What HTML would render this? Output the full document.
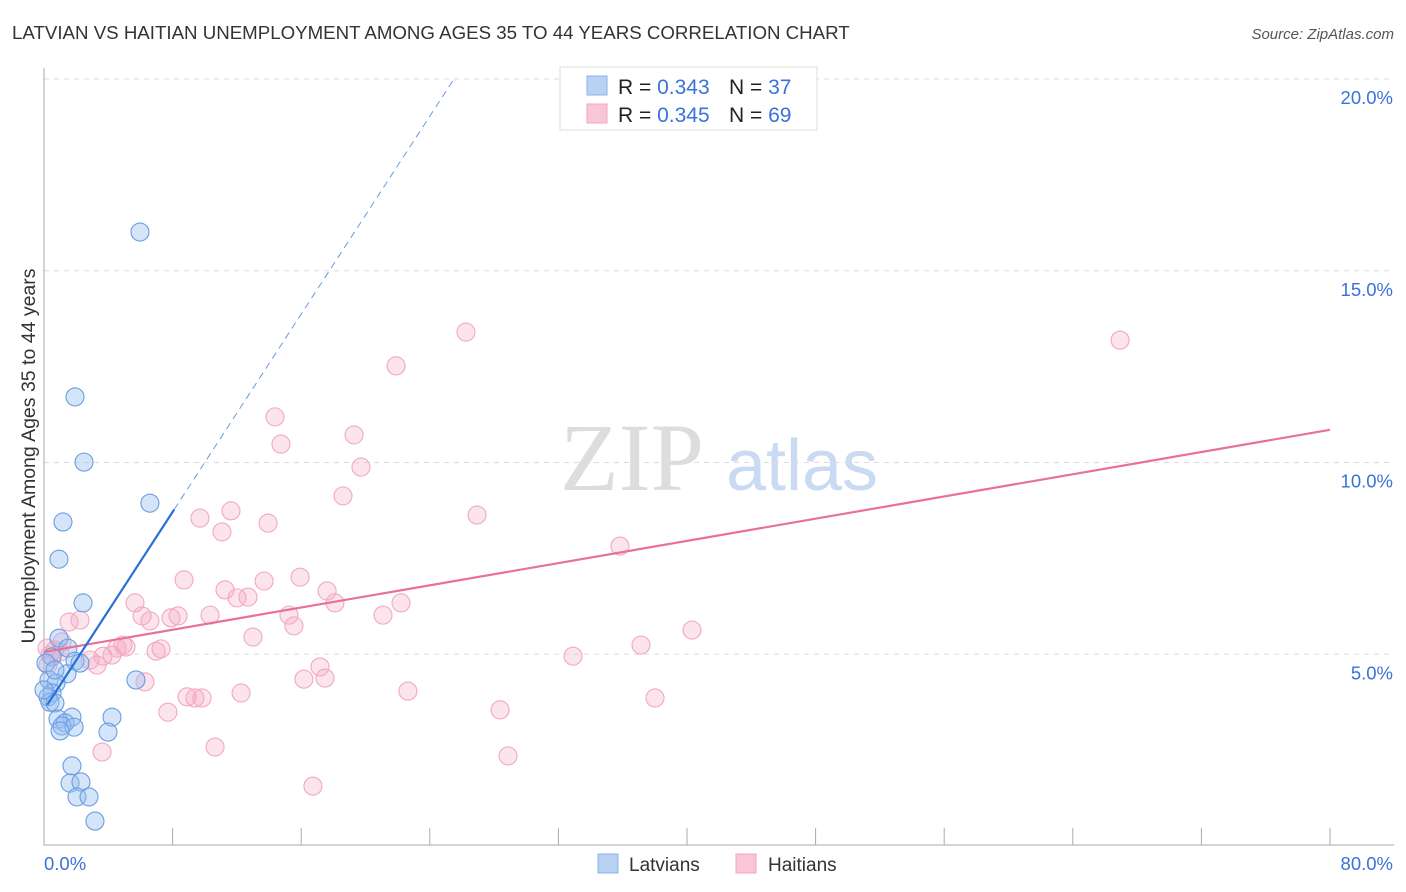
<!DOCTYPE html>
<html><head><meta charset="utf-8"><style>
body{margin:0;background:#fff;font-family:"Liberation Sans",sans-serif;}
svg{display:block}
</style></head><body>
<svg id="chart" width="1406" height="892" xmlns="http://www.w3.org/2000/svg">
<text x="12" y="39" font-size="18.7" fill="#333">LATVIAN VS HAITIAN UNEMPLOYMENT AMONG AGES 35 TO 44 YEARS CORRELATION CHART</text>
<text x="1394" y="39" font-size="15" font-style="italic" fill="#555" text-anchor="end">Source: ZipAtlas.com</text>
<text x="0" y="0" transform="translate(35,456) rotate(-90)" font-size="19.5" fill="#333" text-anchor="middle">Unemployment Among Ages 35 to 44 years</text>
<g>
<text x="632" y="490" font-size="96" font-family="Liberation Serif,serif" fill="#ddd" text-anchor="middle">ZIP</text>
<text x="802" y="490" font-size="72" fill="#c9daf2" text-anchor="middle">atlas</text>
</g>
<g id="grid"></g>
<g id="axes"></g>
<g id="marks"></g>
<g>
<rect x="560" y="67" width="257" height="63" fill="#fff" stroke="#ddd"/>
<rect x="587" y="76" width="20" height="19" fill="#b8d2f4" stroke="#8ab2e8"/>
<rect x="587" y="104" width="20" height="19" fill="#f9c6d6" stroke="#f2a6bf"/>
<text x="618" y="94" font-size="21" fill="#222">R = <tspan fill="#3a72d8">0.343</tspan><tspan x="729">N = </tspan><tspan fill="#3a72d8">37</tspan></text>
<text x="618" y="122" font-size="21" fill="#222">R = <tspan fill="#3a72d8">0.345</tspan><tspan x="729">N = </tspan><tspan fill="#3a72d8">69</tspan></text>
</g>
<g>
<rect x="598" y="854" width="20" height="19" fill="#b8d2f4" stroke="#8ab2e8"/>
<text x="629" y="871" font-size="19" fill="#333">Latvians</text>
<rect x="736" y="854" width="20" height="19" fill="#f9c6d6" stroke="#f2a6bf"/>
<text x="768" y="871" font-size="19" fill="#333">Haitians</text>
</g>
</svg>
<script>
const xTicks=[0,8,16,24,32,40,48,56,64,72,80];
const yTicks=[5,10,15,20];
const yTickLabels=["5.0%","10.0%","15.0%","20.0%"];
const xEndLabels=["0.0%","80.0%"];
const latX=[5.97,1.93,2.49,6.59,1.18,0.93,2.43,0.93,1.49,1.93,0.50,1.43,0.31,0.75,0.50,0.25,0.37,0.68,5.72,4.23,1.74,0.87,1.31,1.12,1.87,1.0,3.98,1.74,1.62,2.30,2.05,2.80,3.17,2.24,0.12,0.68,0];
const latY=[16.01,11.71,10.01,8.94,8.45,7.48,6.34,5.42,5.16,4.82,4.93,4.49,4.33,4.25,3.99,3.89,3.75,3.73,4.33,3.36,3.36,3.31,3.21,3.13,3.10,3.0,2.97,2.09,1.64,1.67,1.28,1.28,0.65,4.77,4.77,4.59,4.07];
const haiX=[26.25,66.94,21.90,14.37,19.29,14.74,19.72,18.60,26.94,9.70,11.63,13.94,11.07,35.83,8.71,15.93,13.69,11.26,17.61,12.69,12.01,22.21,5.66,18.10,8.34,7.90,6.10,10.33,15.24,21.09,6.59,1.56,2.24,15.55,40.31,1.12,13.00,4.91,5.10,4.54,37.14,0.68,6.97,7.28,0.19,3.67,4.23,32.91,2.86,3.30,17.17,6.28,16.17,17.48,12.26,22.64,8.90,9.39,9.83,38.01,7.71,28.37,3.61,10.64,28.87,16.73,0.37,0.25,1.00];
const haiY=[13.40,13.19,12.52,11.19,10.72,10.48,9.88,9.13,8.63,8.55,8.74,8.42,8.19,7.82,6.94,7.01,6.91,6.68,6.65,6.49,6.47,6.34,6.34,6.34,6.00,5.95,6.00,6.02,6.02,6.02,5.87,5.84,5.89,5.74,5.63,5.32,5.45,5.24,5.19,5.16,5.24,5.11,5.08,5.14,5.16,4.95,4.98,4.95,4.85,4.72,4.67,4.28,4.35,4.38,3.99,4.04,3.89,3.86,3.86,3.86,3.49,3.55,2.45,2.58,2.35,1.56,4.98,4.72,5.06];
const latFit=[3.55,0.645]; // intercept, slope
const haiFit=[5.06,0.0724];
const NS="http://www.w3.org/2000/svg";
const X=v=>44+v/80*1286, Y=v=>846-v/5*191.75;
function mk(t,a,p){const e=document.createElementNS(NS,t);for(const k in a)e.setAttribute(k,a[k]);p.appendChild(e);return e;}
const grid=document.getElementById('grid'),axes=document.getElementById('axes'),marks=document.getElementById('marks');
yTicks.forEach((v,i)=>{
 const l=mk('line',{x1:44,x2:1394,y1:Y(v),y2:Y(v),stroke:'#ddd','stroke-dasharray':'5,5'},grid);
 
 
 const t=mk('text',{x:1393,y:Y(v)+25,'font-size':18.5,fill:'#3a72d8','text-anchor':'end'},axes);
 t.textContent=yTickLabels[i];
 
 
});
const ax=mk('path',{d:'M44,68V845H1394',stroke:'#aaa',fill:'none'},axes);


xTicks.slice(1).forEach(v=>{
 const l=mk('line',{x1:X(v),x2:X(v),y1:828,y2:845,stroke:'#aaa'},axes);
 
 
});
const t0=mk('text',{x:44,y:870,'font-size':18.5,fill:'#3a72d8'},axes);t0.textContent=xEndLabels[0];


const t1=mk('text',{x:1393,y:870,'font-size':18.5,fill:'#3a72d8','text-anchor':'end'},axes);t1.textContent=xEndLabels[1];


haiX.forEach((v,i)=>{
 const c=mk('circle',{cx:X(v),cy:Y(haiY[i]),r:9,fill:'rgba(245,165,192,0.3)',stroke:'#f2a8c0','stroke-width':1.1},marks);
 
 
});
latX.forEach((v,i)=>{
 const c=mk('circle',{cx:X(v),cy:Y(latY[i]),r:9,fill:'rgba(150,190,240,0.4)',stroke:'#6a9de2','stroke-width':1.1},marks);
 
 
});
const hl=mk('line',{x1:X(0),y1:Y(haiFit[0]),x2:X(80),y2:Y(haiFit[0]+haiFit[1]*80),stroke:'#e8709a','stroke-width':2.2},marks);


const lx=8.1;
const bl=mk('line',{x1:X(0.2),y1:Y(latFit[0]+latFit[1]*0.2),x2:X(lx),y2:Y(latFit[0]+latFit[1]*lx),stroke:'#2a6fd6','stroke-width':2.2},marks);


const x2=(20-latFit[0])/latFit[1];
const bd=mk('line',{x1:X(lx),y1:Y(latFit[0]+latFit[1]*lx),x2:X(x2),y2:Y(latFit[0]+latFit[1]*x2),stroke:'#6a9be0','stroke-width':1,'stroke-dasharray':'7,5'},marks);


</script>
</body></html>
